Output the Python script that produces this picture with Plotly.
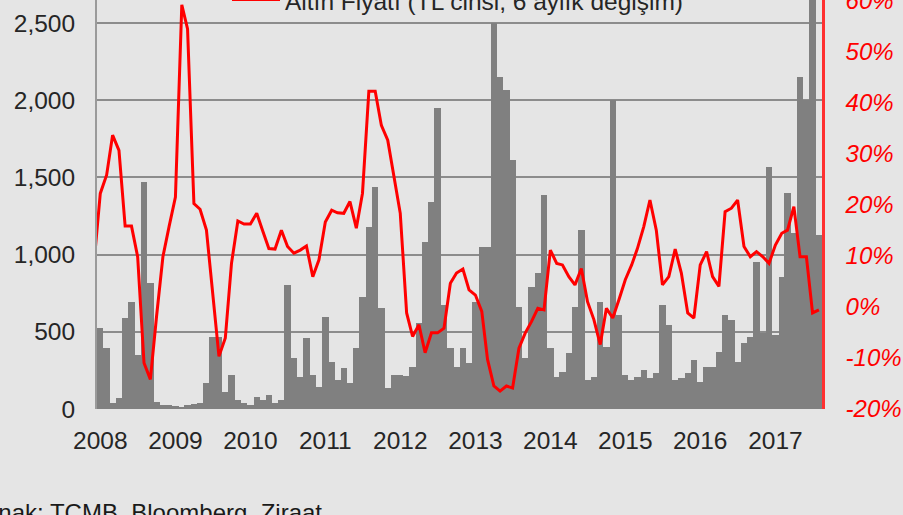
import pandas as pd
import plotly.graph_objects as go

# Monthly volume bars (left axis), Jan 2008 - Aug 2017
bar_values = [
    524, 395, 39, 70, 588, 692, 349, 1469, 815, 45, 26, 26,          # 2008
    20, 13, 26, 35, 40, 168, 466, 466, 110, 220, 58, 39,             # 2009
    26, 78, 58, 91, 40, 58, 802, 330, 207, 459, 220, 142,            # 2010
    595, 304, 188, 265, 168, 394, 725, 1178, 1437, 653, 136, 220,    # 2011
    220, 213, 272, 560, 1081, 1340, 1947, 673, 394, 272, 394, 298,   # 2012
    692, 1048, 1048, 2497, 2148, 2064, 1611, 660, 330, 789, 880, 1385,  # 2013
    394, 207, 240, 362, 660, 1158, 188, 207, 692, 403, 1999, 608,    # 2014
    220, 188, 207, 252, 200, 233, 673, 543, 188, 200, 233, 317,      # 2015
    175, 272, 272, 369, 608, 576, 304, 427, 466, 951, 492, 1566,     # 2016
    479, 854, 1398, 1139, 2148, 1999, 2900, 1126,                    # 2017
]

# Gold price (TL, 6-month change, %), Dec 2007 - Aug 2017 (right axis)
gold_change = [
    8.3,                                                              # Dec 2007
    22.2, 25.8, 33.6, 30.6, 15.8, 15.8, 9.8, -11.0, -14.2, -1.9, 9.8, 15.7,   # 2008
    21.5, 59.1, 54.4, 20.2, 19.1, 15.0, 3.3, -9.7, -6.1, 8.5, 16.8, 16.2,     # 2009
    16.2, 18.3, 15.0, 11.4, 11.3, 15.0, 11.8, 10.5, 11.1, 11.9, 5.9, 9.2,     # 2010
    16.6, 18.9, 18.4, 18.3, 20.6, 15.4, 22.2, 42.2, 42.2, 35.5, 32.6, 25.4,   # 2011
    18.3, -1.2, -5.8, -3.5, -9.0, -5.1, -5.1, -4.2, 4.6, 6.6, 7.4, 3.3,       # 2012
    2.3, -0.9, -10.3, -15.5, -16.5, -15.5, -15.9, -8.1, -5.1, -2.9, -0.3, -0.6,  # 2013
    11.1, 8.5, 8.2, 5.9, 4.3, 7.5, 1.0, -2.5, -7.4, -0.3, -2.2, 1.4,         # 2014
    5.3, 8.2, 11.4, 15.7, 20.9, 15.0, 4.3, 5.9, 11.3, 6.6, -1.2, -2.2,       # 2015
    8.2, 10.8, 5.9, 4.0, 18.6, 19.3, 20.9, 11.8, 9.8, 10.8, 9.8, 8.5,        # 2016
    12.1, 14.4, 15.0, 19.6, 9.8, 9.8, -1.2, -0.6,                            # 2017
]

bar_months = pd.date_range("2008-01-01", periods=len(bar_values), freq="MS")
line_months = pd.date_range("2007-12-01", periods=len(gold_change), freq="MS")

year_ticks = [f"{y}-01-01" for y in range(2008, 2018)]
left_ticks = [0, 500, 1000, 1500, 2000, 2500]
right_ticks = [-20, -10, 0, 10, 20, 30, 40, 50, 60]
right_tick_text = [f"<i>{v}%</i>" for v in right_ticks]

legend_label = "Altın Fiyatı (TL cinsi, 6 aylık değişim)"
source_label = "Kaynak: TCMB, Bloomberg, Ziraat"

FONT = "Liberation Sans, Arial, sans-serif"
BG = "#e5e5e5"

fig = go.Figure()
fig.add_trace(go.Bar(
    x=bar_months, y=bar_values, marker=dict(color="#808080", line=dict(width=0)),
    width=31 * 86400000, yaxis="y", showlegend=False,
))
fig.add_trace(go.Scatter(
    x=line_months, y=gold_change, mode="lines", line=dict(color="#ff0000", width=3),
    yaxis="y2", showlegend=False,
))

W, H = 903, 515
ml, mr, mt, mb = 97, 81, 0, 105.5
pw = W - ml - mr
ph = H - mt - mb

def px_x(p):
    return (p - ml) / pw

def px_y(p):
    return 1 - (p - mt) / ph

fig.update_layout(
    width=W, height=H,
    margin=dict(l=ml, r=mr, t=mt, b=mb, autoexpand=False),
    paper_bgcolor=BG, plot_bgcolor=BG,
    bargap=0,
    font=dict(family=FONT, size=24.5, color="#262626"),
    xaxis=dict(
        type="date", range=["2007-12-16", "2017-08-16"],
        tickvals=year_ticks, tickformat="%Y", ticks="",
        ticklabelstandoff=14, showgrid=False, zeroline=False, showline=False,
        tickfont=dict(size=24.5, color="#262626"),
    ),
    yaxis=dict(
        range=[0, 2649], tickvals=left_ticks, tickformat=",d", ticks="",
        ticklabelstandoff=15, showgrid=True, gridcolor="#8c8c8c", gridwidth=2,
        zeroline=False, showline=True, linecolor="#9a9a9a", linewidth=2,
        tickfont=dict(size=24.5, color="#262626"),
    ),
    yaxis2=dict(
        overlaying="y", side="right", range=[-20, 60.05], tickmode="array",
        tickvals=right_ticks, ticktext=right_tick_text,
        ticks="", ticklabelstandoff=16, ticklabeloverflow="allow", showgrid=False,
        zeroline=False, showline=True, linecolor="#ff3030", linewidth=2.5,
        tickfont=dict(family=FONT, size=24, color="#ff0000"),
    ),
    shapes=[dict(
        type="line", xref="paper", yref="paper",
        x0=px_x(232), x1=px_x(280), y0=px_y(-0.5), y1=px_y(-0.5),
        line=dict(color="#ff0000", width=3),
    )],
    annotations=[
        dict(text=legend_label, xref="paper", yref="paper", x=px_x(283), y=px_y(1.5),
             xanchor="left", yanchor="middle", showarrow=False,
             font=dict(family=FONT, size=24.5, color="#262626")),
        dict(text=source_label, xref="paper", yref="paper", x=px_x(-45), y=px_y(498),
             xanchor="left", yanchor="top", showarrow=False,
             font=dict(family=FONT, size=24, color="#1a1a1a")),
    ],
)

fig.write_html(
    "out.html",
    config={"displayModeBar": False},
    post_script="document.body.style.margin='0';document.body.style.background='%s';" % BG,
)
